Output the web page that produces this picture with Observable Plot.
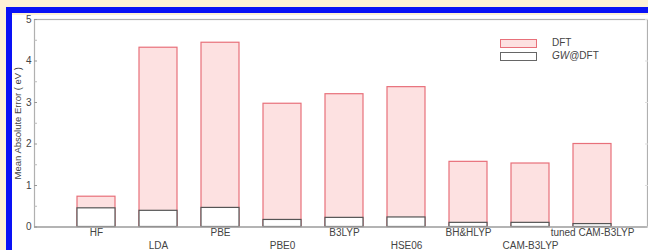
<!DOCTYPE html>
<html>
<head>
<meta charset="utf-8">
<script src="https://cdn.jsdelivr.net/npm/d3@7"></script>
<script src="https://cdn.jsdelivr.net/npm/@observablehq/plot@0.6"></script>
<style>
  html, body { margin: 0; padding: 0; }
  body { width: 648px; height: 250px; overflow: hidden; background: #fdf1d6; font-family: "Liberation Sans", Arial, sans-serif; }
  #wrap { position: relative; width: 648px; height: 250px; }
  #panel { position: absolute; left: 6px; top: 7px; width: 648px; height: 250px; border-left: 6px solid #0a12f5; border-top: 6px solid #0a12f5; background: white; }
  #strip { position: absolute; left: 12px; top: 13px; width: 640px; height: 2px; background: #fdf1d6; }
  #chart { position: absolute; left: 0; top: 0; }
  .leg { position: absolute; font-size: 10px; color: #444; line-height: 10px; }
  .sw { position: absolute; width: 35px; height: 7px; }
</style>
</head>
<body>
<div id="wrap">
  <div id="panel"></div>
  <div id="strip"></div>
  <div id="chart"></div>
  <div class="sw" style="left:500px; top:39px; background:#fde1e1; border:1px solid #e8707a;"></div>
  <div class="leg" style="left:552px; top:38px;">DFT</div>
  <div class="sw" style="left:500px; top:52px; background:#fff; border:1px solid #666;"></div>
  <div class="leg" style="left:552px; top:51px;"><i>GW</i>@DFT</div>
</div>
<script>
const methods = ["HF", "LDA", "PBE", "PBE0", "B3LYP", "HSE06", "BH&HLYP", "CAM-B3LYP", "tuned CAM-B3LYP"];
const dftMAE = [0.73, 4.32, 4.44, 2.97, 3.20, 3.37, 1.57, 1.53, 2.00];
const gwMAE  = [0.45, 0.39, 0.46, 0.17, 0.22, 0.23, 0.10, 0.10, 0.07];
const yTicks = [0, 1, 2, 3, 4, 5];
const yMinor = [0.5, 1.5, 2.5, 3.5, 4.5];

const rows = methods.map((m, i) => ({method: m, dft: dftMAE[i], gw: gwMAE[i], row: i % 2}));
const upperRow = rows.filter(d => d.row === 0);
const lowerRow = rows.filter(d => d.row === 1);

const chart = Plot.plot({
  width: 648,
  height: 250,
  marginLeft: 34,
  marginRight: 1,
  marginTop: 19,
  marginBottom: 23.5,
  style: {background: "transparent", fontFamily: "Liberation Sans, Arial, sans-serif", fontSize: "10px", color: "#444"},
  x: {domain: methods, paddingInner: 0.387, paddingOuter: 0.629, align: 0.544, axis: null},
  y: {domain: [0, 5], axis: null},
  marks: [
    Plot.barY(rows, {x: "method", y: "dft", fill: "#fde1e1", stroke: "#e8707a", strokeWidth: 1.2}),
    Plot.barY(rows, {x: "method", y: "gw", fill: "white", stroke: "#555", strokeWidth: 1.2}),
    Plot.frame({stroke: "#b0b0b0", strokeWidth: 1.2}),
    Plot.axisY({ticks: yTicks, tickSize: 0, tickPadding: 3, tickFormat: d => String(d), fill: "#444", fontSize: 10}),
    Plot.axisY({ticks: yTicks, tickSize: -3, text: null, stroke: "#999"}),
    Plot.axisY({ticks: yMinor, tickSize: -3, text: null, stroke: "#bbb"}),
    Plot.axisY({anchor: "right", ticks: yTicks, tickSize: -3, text: null, stroke: "#ddd"}),
    Plot.ruleY([0], {stroke: "#999", strokeWidth: 1.2}),
    Plot.text(upperRow, {x: "method", frameAnchor: "bottom", dy: 6, text: "method", textAnchor: "middle", lineAnchor: "middle", fill: "#444", fontSize: 10}),
    Plot.text(lowerRow, {x: "method", frameAnchor: "bottom", dy: 19, text: "method", textAnchor: "middle", lineAnchor: "middle", fill: "#444", fontSize: 10}),
    Plot.text(["Mean Absolute Error ( eV )"], {frameAnchor: "left", dx: -17, rotate: -90, text: d => d, textAnchor: "middle", lineAnchor: "middle", fill: "#444", fontSize: 9.5})
  ]
});
document.getElementById("chart").appendChild(chart);
</script>
</body>
</html>
